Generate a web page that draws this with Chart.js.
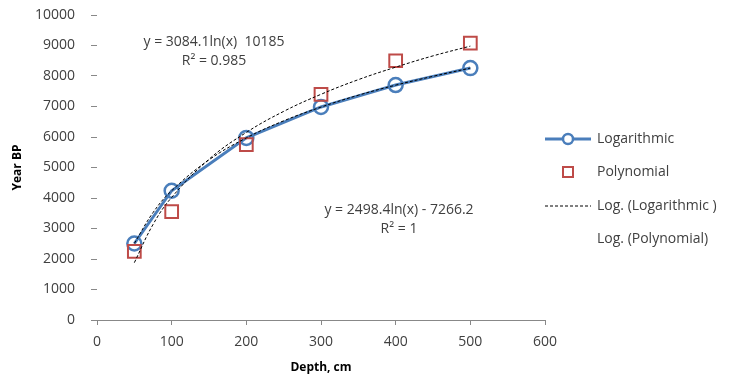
<!DOCTYPE html>
<html>
<head>
<meta charset="utf-8">
<script src="https://cdn.jsdelivr.net/npm/chart.js@4/dist/chart.umd.min.js"></script>
<style>
  html, body { margin: 0; padding: 0; background: #fff; }
  #wrap { width: 733px; height: 379px; position: relative; }
</style>
</head>
<body>
<div id="wrap"><canvas id="depthChart"></canvas></div>
<script>
// measured points
const depths = [50, 100, 200, 300, 400, 500];
const logSeries = [2508, 4239, 5971, 6984, 7703, 8260];
const polySeries = [2250, 3550, 5750, 7400, 8500, 9080];

// trendlines
const trendDepths = [50, 75, 100, 150, 200, 250, 300, 350, 400, 450, 500];
const logTrend = [2510, 3520, 4240, 5250, 5970, 6530, 6980, 7370, 7700, 7990, 8260];
const polyTrend = [1880, 3130, 4020, 5270, 6150, 6840, 7400, 7880, 8290, 8660, 8980];

const xTicks = [0, 100, 200, 300, 400, 500, 600];
const yTicks = [0, 1000, 2000, 3000, 4000, 5000, 6000, 7000, 8000, 9000, 10000];

const legendItems = ['Logarithmic', 'Polynomial', 'Log. (Logarithmic )', 'Log. (Polynomial)'];

const FONT = "'Open Sans', sans-serif";
const BLUE = '#4a7ebb';
const RED = '#be4b48';
const TXT = '#404040';

const pts = (xs, ys) => xs.map((x, i) => ({ x, y: ys[i] }));

// equations + legend drawn on top
const extras = {
    id: 'extras',
    afterDraw(c) {
        const ctx = c.ctx;
        ctx.save();
        ctx.fillStyle = TXT;
        ctx.font = '14px ' + FONT;
        ctx.textAlign = 'center';
        ctx.textBaseline = 'middle';
        ctx.fillText('y = 3084.1ln(x)  10185', 214, 42);
        ctx.fillText('R\u00b2 = 0.985', 214, 61);
        ctx.fillText('y = 2498.4ln(x) - 7266.2', 399, 210);
        ctx.fillText('R\u00b2 = 1', 399, 229);

        // legend
        ctx.textAlign = 'left';
        const lx = 545, tx = 597;
        const ys = [139, 172, 206, 239];
        ctx.strokeStyle = BLUE; ctx.lineWidth = 3;
        ctx.beginPath(); ctx.moveTo(lx, ys[0]); ctx.lineTo(lx + 46, ys[0]); ctx.stroke();
        ctx.fillStyle = '#fff'; ctx.lineWidth = 2.5;
        ctx.beginPath(); ctx.arc(lx + 23, ys[0], 5, 0, Math.PI * 2); ctx.fill(); ctx.stroke();
        ctx.strokeStyle = RED; ctx.lineWidth = 2;
        ctx.strokeRect(lx + 18, ys[1] - 5, 10, 10);
        ctx.strokeStyle = '#000'; ctx.lineWidth = 1; ctx.setLineDash([3, 2]);
        ctx.beginPath(); ctx.moveTo(lx, ys[2]); ctx.lineTo(lx + 46, ys[2]); ctx.stroke();
        ctx.setLineDash([]);
        ctx.fillStyle = TXT;
        legendItems.forEach((t, i) => ctx.fillText(t, tx, ys[i]));
        ctx.restore();
    }
};

new Chart(document.getElementById('depthChart'), {
    type: 'scatter',
    data: {
        datasets: [
            {
                label: 'Log. (Logarithmic )',
                data: pts(trendDepths, logTrend),
                showLine: true,
                borderColor: '#000',
                borderWidth: 1,
                borderDash: [3, 2],
                pointRadius: 0,
                tension: 0.4,
                order: 1
            },
            {
                label: 'Log. (Polynomial)',
                data: pts(trendDepths, polyTrend),
                showLine: true,
                borderColor: '#000',
                borderWidth: 1,
                borderDash: [3, 2],
                pointRadius: 0,
                tension: 0.4,
                order: 0
            },
            {
                label: 'Logarithmic',
                data: pts(depths, logSeries),
                showLine: true,
                borderColor: BLUE,
                borderWidth: 3,
                pointStyle: 'circle',
                pointRadius: 7,
                pointBorderWidth: 2.5,
                pointBackgroundColor: 'rgba(255,255,255,0)',
                pointBorderColor: BLUE,
                order: 3
            },
            {
                label: 'Polynomial',
                data: pts(depths, polySeries),
                showLine: false,
                pointStyle: 'rect',
                pointRadius: 9,
                pointBorderWidth: 2,
                pointBackgroundColor: 'rgba(255,255,255,0)',
                pointBorderColor: RED,
                order: 2
            }
        ]
    },
    options: {
        responsive: true,
        maintainAspectRatio: false,
        animation: false,
        layout: { padding: { top: 15, right: 188, left: 0, bottom: 0 } },
        plugins: { legend: { display: false }, tooltip: { enabled: false } },
        scales: {
            x: {
                type: 'linear',
                min: 0, max: 600,
                afterBuildTicks: s => { s.ticks = xTicks.map(v => ({ value: v })); },
                afterFit: s => { s.height = 59; s.paddingLeft = 0; s.paddingRight = 0; },
                grid: { drawOnChartArea: false, tickLength: 5, color: '#888' },
                border: { display: true, color: '#888' },
                ticks: { color: TXT, font: { family: FONT, size: 14 }, padding: 9, maxRotation: 0 },
                title: { display: true, text: 'Depth, cm', color: '#000', font: { family: FONT, size: 12, weight: 'bold' }, padding: { top: 6 } }
            },
            y: {
                min: 0, max: 10000,
                afterBuildTicks: s => { s.ticks = yTicks.map(v => ({ value: v })); },
                afterFit: s => { s.width = 97; s.paddingTop = 0; s.paddingBottom = 0; },
                grid: { drawOnChartArea: false, tickLength: 6, color: '#888' },
                border: { display: false },
                ticks: { color: TXT, font: { family: FONT, size: 14 }, padding: 16, callback: v => String(v) },
                title: { display: true, text: 'Year BP', color: '#000', font: { family: FONT, size: 12, weight: 'bold' }, padding: { top: 10, bottom: 0 } }
            }
        }
    },
    plugins: [extras]
});
</script>
</body>
</html>
